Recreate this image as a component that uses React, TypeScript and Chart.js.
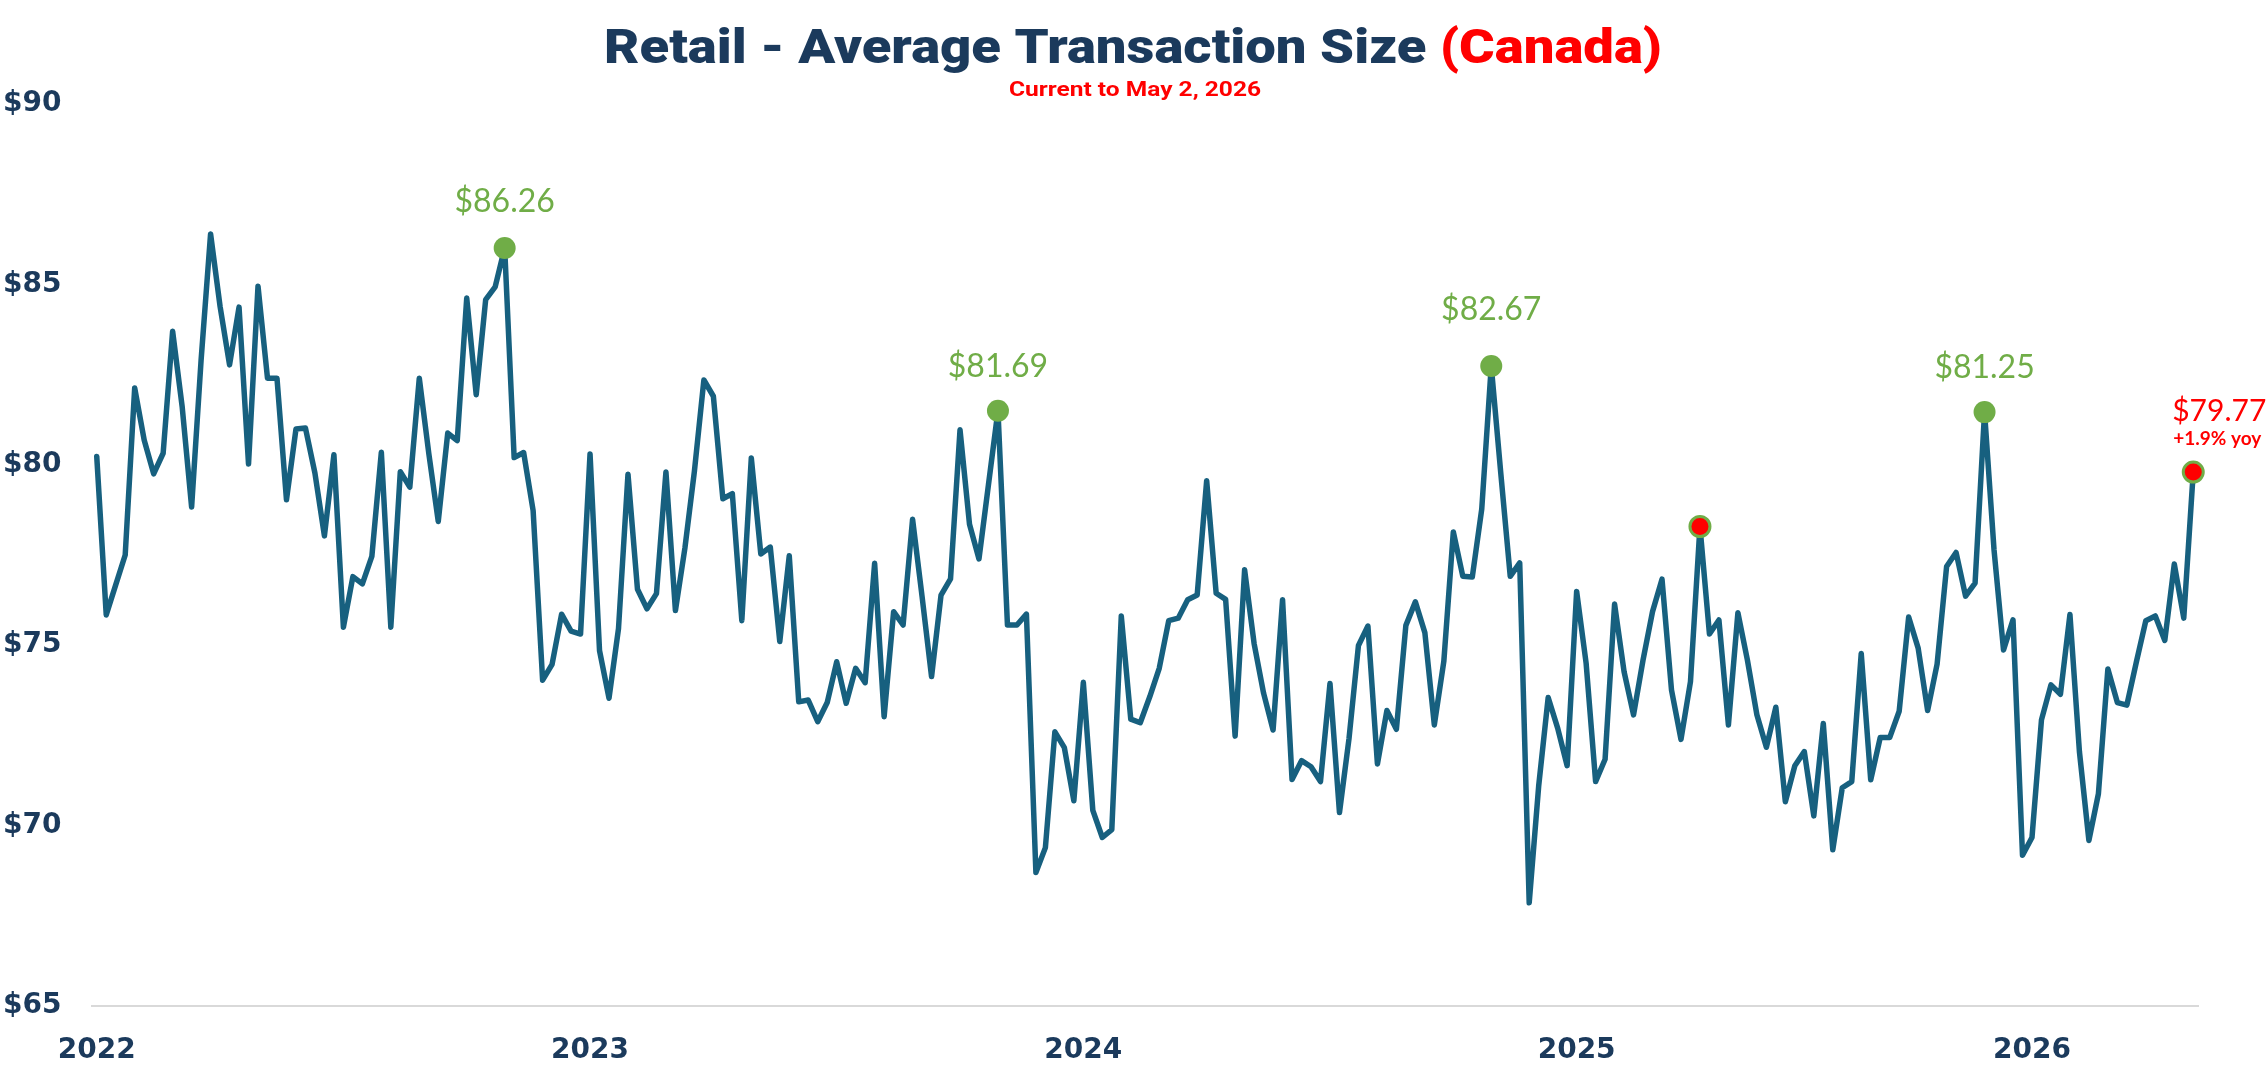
import React, { useEffect, useRef } from 'react';
import { Chart, registerables } from 'chart.js';

Chart.register(...registerables);

// ---------- data ----------
const yearLabels = ['2022', '2023', '2024', '2025', '2026'];
const yearTickIndex = [0, 52, 104, 156, 204];

const avgTransaction = [
  80.23, 75.84, 76.67, 77.5, 82.13, 80.69, 79.75, 80.32, 83.7, 81.62,
  78.83, 82.9, 86.4, 84.39, 82.77, 84.37, 80.02, 84.95, 82.4, 82.4,
  79.03, 80.99, 81.02, 79.77, 78.03, 80.28, 75.5, 76.9, 76.7, 77.46,
  80.35, 75.5, 79.81, 79.38, 82.4, 80.32, 78.43, 80.88, 80.67, 84.62,
  81.94, 84.58, 84.93, 86.01, 80.2, 80.34, 78.73, 74.03, 74.47, 75.86,
  75.39, 75.31, 80.3, 74.85, 73.53, 75.46, 79.74, 76.55, 76.01, 76.43,
  79.8, 75.96, 77.69, 79.82, 82.35, 81.9, 79.06, 79.2, 75.68, 80.19,
  77.53, 77.72, 75.1, 77.48, 73.43, 73.48, 72.88, 73.41, 74.54, 73.39,
  74.36, 73.96, 77.27, 73.02, 75.93, 75.56, 78.49, 76.35, 74.13, 76.39,
  76.84, 80.97, 78.35, 77.39, 79.45, 81.5, 75.56, 75.56, 75.86, 68.7,
  69.39, 72.6, 72.16, 70.69, 73.97, 70.42, 69.67, 69.89, 75.81, 72.95,
  72.85, 73.57, 74.36, 75.68, 75.75, 76.26, 76.39, 79.56, 76.44, 76.27,
  72.48, 77.09, 75.05, 73.67, 72.65, 76.26, 71.28, 71.8, 71.63, 71.22,
  73.94, 70.36, 72.4, 74.99, 75.53, 71.71, 73.19, 72.67, 75.55, 76.2,
  75.35, 72.79, 74.55, 78.14, 76.91, 76.89, 78.78, 82.74, 79.78, 76.91,
  77.28, 67.86, 71.1, 73.55, 72.7, 71.66, 76.49, 74.5, 71.22, 71.84,
  76.14, 74.27, 73.07, 74.59, 75.93, 76.83, 73.76, 72.39, 73.99, 78.29,
  75.31, 75.7, 72.79, 75.9, 74.59, 73.07, 72.17, 73.28, 70.66, 71.66,
  72.05, 70.27, 72.83, 69.33, 71.05, 71.22, 74.77, 71.27, 72.44, 72.44,
  73.17, 75.78, 74.92, 73.19, 74.48, 77.18, 77.57, 76.36, 76.72, 81.46,
  77.64, 74.87, 75.7, 69.18, 69.67, 72.93, 73.9, 73.64, 75.85, 72.05,
  69.59, 70.88, 74.34, 73.41, 73.34, 74.53, 75.68, 75.81, 75.13, 77.25,
  75.75, 79.8,
];

const yMin = 65;
const yMax = 90;
const yStep = 5;

const peakIndex = [43, 95, 147, 199];
const peakLabels = ['$86.26', '$81.69', '$82.67', '$81.25'];
const yoyIndex = [169, 221];
const currentLabel = '$79.77';
const yoyLabel = '+1.9% yoy';

const titleMain = 'Retail - Average Transaction Size ';
const titleRegion = '(Canada)';
const subtitleText = 'Current to May 2, 2026';

// ---------- styles ----------
const NAVY = '#1b3a5c';
const LINE = '#17607f';
const GREEN = '#70ad47';
const RED = '#ff0000';
const W = 2267;
const H = 1091;
const peakLabelRise = [36, 34, 46, 34];

function drawFitted(
  ctx: CanvasRenderingContext2D,
  parts: { text: string; color: string }[],
  font: string,
  cx: number,
  baseline: number,
  targetW: number
) {
  ctx.save();
  ctx.font = font;
  const widths = parts.map((p) => ctx.measureText(p.text).width);
  const total = widths.reduce((a, b) => a + b, 0);
  const sx = targetW / total;
  ctx.translate(cx - targetW / 2, baseline);
  ctx.scale(sx, 1);
  ctx.textAlign = 'left';
  ctx.textBaseline = 'alphabetic';
  let x = 0;
  parts.forEach((p, i) => {
    ctx.fillStyle = p.color;
    ctx.fillText(p.text, x, 0);
    x += widths[i];
  });
  ctx.restore();
}

const decorPlugin = {
  id: 'decor',
  afterDraw(chart: any) {
    const ctx: CanvasRenderingContext2D = chart.ctx;
    // title
    drawFitted(
      ctx,
      [
        { text: titleMain, color: NAVY },
        { text: titleRegion, color: RED },
      ],
      '900 49px Roboto',
      1133,
      63,
      1058
    );
    drawFitted(ctx, [{ text: subtitleText, color: RED }], 'bold 21px Roboto', 1135, 96, 252);

    const meta = chart.getDatasetMeta(0);
    ctx.save();
    ctx.textAlign = 'center';
    ctx.textBaseline = 'alphabetic';
    ctx.fillStyle = GREEN;
    ctx.font = '32px Lato';
    peakIndex.forEach((idx, k) => {
      const pt = meta.data[idx];
      if (!pt) return;
      ctx.fillText(peakLabels[k], pt.x, pt.y - peakLabelRise[k]);
    });
    const last = meta.data[yoyIndex[yoyIndex.length - 1]];
    if (last) {
      ctx.fillStyle = RED;
      ctx.font = '30px Lato';
      ctx.fillText(currentLabel, last.x + 26, last.y - 51);
      ctx.font = 'bold 19px Lato';
      ctx.fillText(yoyLabel, last.x + 24, last.y - 27);
    }
    ctx.restore();
  },
};

export default function App() {
  const canvasRef = useRef<HTMLCanvasElement | null>(null);

  useEffect(() => {
    document.body.style.margin = '0';
    document.body.style.overflow = 'hidden';
    const canvas = canvasRef.current;
    if (!canvas) return;

    const points = avgTransaction.map((v, i) => ({ x: i, y: v }));

    const chart = new Chart(canvas, {
      type: 'line',
      data: {
        datasets: [
          {
            data: points,
            borderColor: LINE,
            borderWidth: 5.5,
            borderJoinStyle: 'round',
            borderCapStyle: 'round',
            tension: 0,
            fill: false,
            clip: false,
            pointRadius: (c: any) =>
              yoyIndex.includes(c.dataIndex) ? 10 : peakIndex.includes(c.dataIndex) ? 11 : 0,
            pointBackgroundColor: (c: any) => (yoyIndex.includes(c.dataIndex) ? RED : GREEN),
            pointBorderColor: GREEN,
            pointBorderWidth: (c: any) => (yoyIndex.includes(c.dataIndex) ? 3 : 0),
            pointHoverRadius: 0,
          } as any,
        ],
      },
      options: {
        responsive: false,
        animation: false,
        devicePixelRatio: 1,
        events: [],
        layout: { padding: { left: 3, right: 69, top: 104, bottom: 0 } },
        plugins: {
          legend: { display: false },
          tooltip: { enabled: false },
          title: { display: false },
        },
        scales: {
          x: {
            type: 'linear',
            min: -0.5,
            max: avgTransaction.length - 0.5,
            grid: { display: false, drawTicks: false },
            border: { display: true, color: '#d9d9d9', width: 2 },
            afterBuildTicks: (scale: any) => {
              scale.ticks = yearTickIndex.map((v) => ({ value: v }));
            },
            afterFit: (scale: any) => {
              scale.height = 85;
            },
            ticks: {
              autoSkip: false,
              maxRotation: 0,
              padding: 28,
              color: NAVY,
              font: { family: 'DejaVu Sans', weight: 'bold', size: 28 },
              callback: (_v: any, i: number) => yearLabels[i],
            },
          },
          y: {
            min: yMin,
            max: yMax,
            grid: { display: false, drawTicks: false },
            border: { display: false },
            afterFit: (scale: any) => {
              scale.width = 89;
            },
            ticks: {
              stepSize: yStep,
              crossAlign: 'far',
              color: NAVY,
              font: { family: 'DejaVu Sans', weight: 'bold', size: 28 },
              callback: (v: any) => '$' + v,
            },
          },
        },
      } as any,
      plugins: [decorPlugin],
    });

    return () => chart.destroy();
  }, []);

  return (
    <div style={{ width: W, height: H, position: 'relative', background: '#ffffff' }}>
      <canvas ref={canvasRef} width={W} height={H} style={{ display: 'block' }} />
    </div>
  );
}
